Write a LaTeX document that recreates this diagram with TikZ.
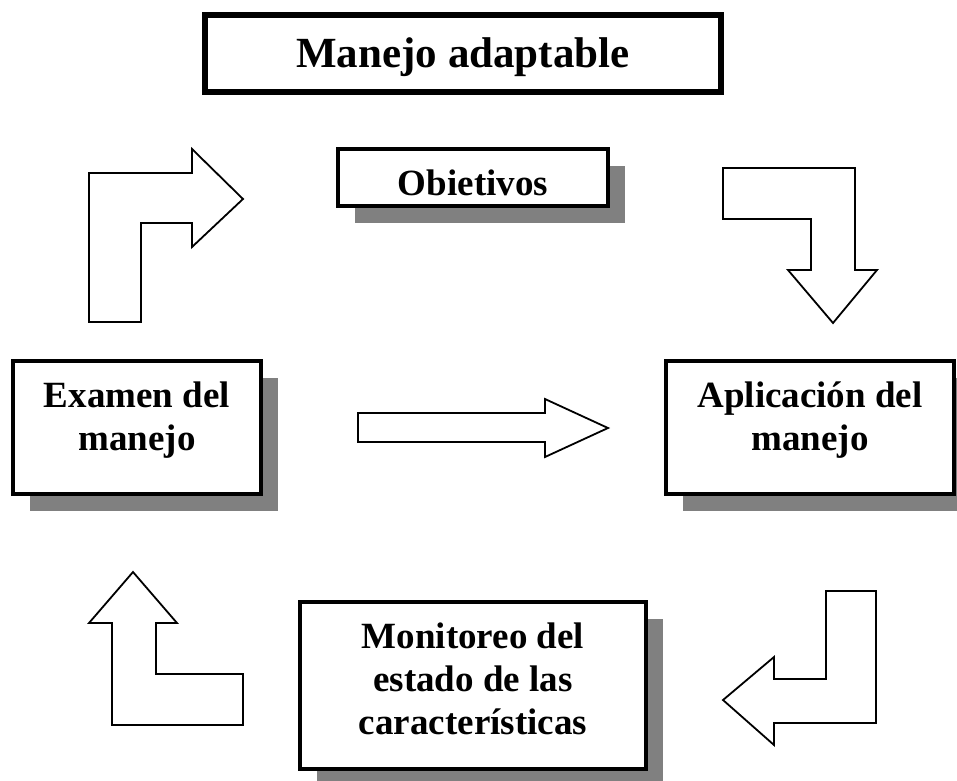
\documentclass[tikz,border=0pt]{standalone}
\usepackage{fontspec}
\setmainfont{Liberation Serif}
\usetikzlibrary{shadows}
\begin{document}
\begin{tikzpicture}[x=1pt,y=-1pt,
  boxstyle/.style={draw=black, line width=4pt, fill=white, inner sep=0pt,
    drop shadow={shadow xshift=17pt, shadow yshift=-17pt, fill=black!50, opacity=1}},
  titlebox/.style={draw=black, line width=6pt, fill=white, inner sep=0pt},
  boxtext/.style={font=\fontsize{37}{43}\selectfont\bfseries, align=center, inner sep=0pt},
  titletext/.style={font=\fontsize{43}{50}\selectfont\bfseries, inner sep=0pt},
  blockarrow/.style={draw=black, line width=1.8pt, fill=white, line join=miter}]
\useasboundingbox (0,0) rectangle (957,780);
\fill[white] (0,0) rectangle (957,780);

% title
\node[titlebox, minimum width=516pt, minimum height=76.5pt] (title) at (463,53.25) {};
\node[titletext, anchor=base] (titlet) at (463,67) {Manejo adaptable};

% boxes
\node[boxstyle, minimum width=270pt, minimum height=57pt] (obj) at (473,177.5) {};
\node[boxtext, anchor=base] (objt) at (473,195) {Obietivos};

\node[boxstyle, minimum width=248pt, minimum height=133pt] (exa) at (137,427.5) {};
\node[boxtext] (exat) at (137,420) {Examen del\\manejo};

\node[boxstyle, minimum width=288pt, minimum height=133pt] (apl) at (810,427.5) {};
\node[boxtext] (aplt) at (810,420) {Aplicación del\\manejo};

\node[boxstyle, minimum width=346pt, minimum height=167pt] (mon) at (473,685.5) {};
\node[boxtext] (mont) at (473,678.5) {Monitoreo del\\estado de las\\características};

% block arrows
\draw[blockarrow] (89,322) -- (89,173) -- (192,173) -- (192,149) -- (243,199) -- (192,247) -- (192,223) -- (141,223) -- (141,322) -- cycle;
\draw[blockarrow] (723,168) -- (855,168) -- (855,270) -- (877,270) -- (833,323) -- (788,270) -- (811,270) -- (811,219) -- (723,219) -- cycle;
\draw[blockarrow] (358,413) -- (545,413) -- (545,399) -- (608,428) -- (545,457) -- (545,442) -- (358,442) -- cycle;
\draw[blockarrow] (133,572) -- (177,623) -- (156,623) -- (156,674) -- (243,674) -- (243,725) -- (112,725) -- (112,623) -- (89,623) -- cycle;
\draw[blockarrow] (826,591) -- (876,591) -- (876,723) -- (774,723) -- (774,745) -- (723,700) -- (774,657) -- (774,679) -- (826,679) -- cycle;
\end{tikzpicture}
\end{document}
